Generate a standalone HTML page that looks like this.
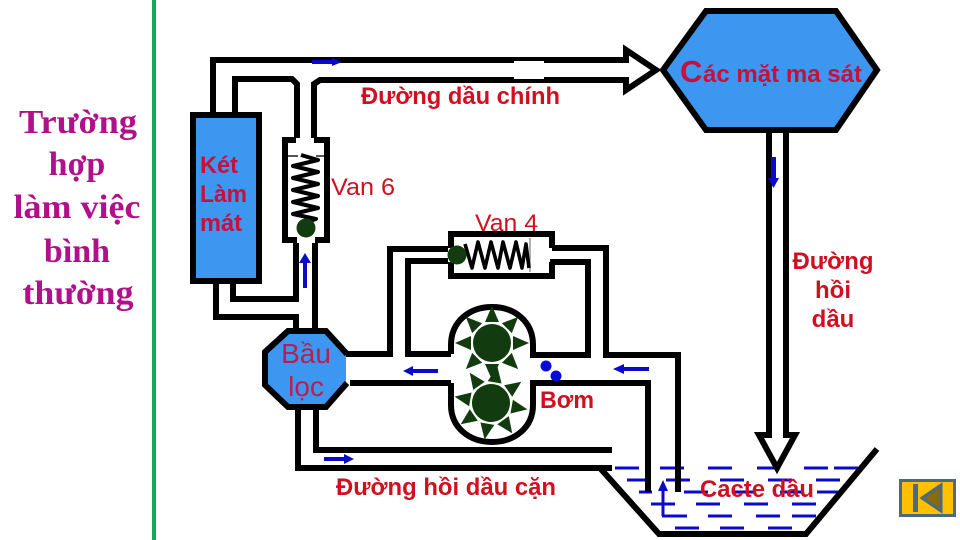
<!DOCTYPE html>
<html><head><meta charset="utf-8"><style>html,body{margin:0;padding:0;background:#fff}svg{display:block}</style></head><body>
<svg width="960" height="540" viewBox="0 0 960 540" xmlns="http://www.w3.org/2000/svg">
<defs>
<g id="t"><polygon points="-7,-21 7,-21 0,-37" fill="#123c10"/></g>
<g id="g"><circle r="19" fill="#123c10"/><use href="#t"/><use href="#t" transform="rotate(45)"/><use href="#t" transform="rotate(90)"/><use href="#t" transform="rotate(135)"/><use href="#t" transform="rotate(180)"/><use href="#t" transform="rotate(225)"/><use href="#t" transform="rotate(270)"/><use href="#t" transform="rotate(315)"/></g>
</defs>
<rect width="960" height="540" fill="#fff"/>
<rect x="152" y="0" width="4" height="540" fill="#12a85a"/>
<g font-family="'Liberation Serif',serif" font-weight="bold" font-size="34" fill="#b0108a" text-anchor="middle">
<text x="78" y="133" textLength="118" lengthAdjust="spacingAndGlyphs">Trường</text>
<text x="77" y="175">hợp</text>
<text x="77" y="218" textLength="127" lengthAdjust="spacingAndGlyphs">làm việc</text>
<text x="77" y="262">bình</text>
<text x="78" y="304" textLength="111" lengthAdjust="spacingAndGlyphs">thường</text>
</g>

<!-- dashes -->
<g stroke="#0a0ac8" stroke-width="3" fill="none">
<path d="M615 468H639M660 468H684M708 468H732M757 468H780M804 468H828M834 468H858"/>
<path d="M627 480H647M666 480H690M720 480H744M768 480H792M816 480H840"/>
<path d="M639 492H652M684 492H708M732 492H756M780 492H803M817 492H840"/>
<path d="M651 504H675M696 504H720M744 504H768M792 504H816"/>
<path d="M662 516H687M708 516H732M756 516H780M792 516H816"/>
<path d="M675 528H699M720 528H744M768 528H792"/>
<path d="M663 516V488"/>
</g>
<polygon points="663,480 658,491 668,491" fill="#0a0ac8"/>

<!-- pipes -->
<g fill="none" stroke="#000" stroke-width="6">
<path d="M213 113V60H626V50L656 70L626 90V80H320L314 84V138M235 113V79H292L297 84V138"/>
<path d="M216 284V317H296V329M233 284V299H296V243M315 243V329"/>
<path d="M345 354H390V249H448M350 383H451M408 354V261H448M405 354H451"/>
<path d="M451 354V345C451 321 470 307 492 307C514 307 533 321 533 345V355H588V262H550M552 248H606V355H678V492"/>
<path d="M451 383V405C451 428 470 442 492 442C514 442 533 428 533 405V383H648V492" />
<path d="M298 408V468H612M316 408V450H612"/>
<path d="M600 468L659 534H806L877 449"/>
<path d="M769 132V435H759L777 468L795 435H786V132"/>
</g>
<rect x="514" y="61" width="30" height="2" fill="#fff"/><rect x="514" y="77" width="30" height="2" fill="#fff"/>

<!-- radiator -->
<rect x="193" y="115" width="66" height="166" fill="#3d96f0" stroke="#000" stroke-width="6"/>
<!-- valve 6 -->
<path d="M296 140H285V240H297M315 240H327V140H314" fill="none" stroke="#000" stroke-width="6"/>
<path d="M288 156H298M316 156H324" stroke="#555" stroke-width="2"/>
<path d="M301 155L318 160L293 166L318 172L293 178L318 184L293 190L318 196L293 202L318 208L293 214L316 219L301 224" fill="none" stroke="#000" stroke-width="4" stroke-linejoin="round"/>
<circle cx="306" cy="228" r="9.5" fill="#123c10"/>
<!-- valve 4 -->
<path d="M451 248V234H552V248M552 262V276H451V262" fill="none" stroke="#000" stroke-width="6"/>
<path d="M530 238V272" stroke="#999" stroke-width="1.5"/>
<path d="M465 244L472 268L478 242L485 268L491 242L498 268L503 242L510 268L516 242L522 268L526 244L529 268" fill="none" stroke="#000" stroke-width="3.6" stroke-linejoin="round"/>
<circle cx="457" cy="255" r="9.5" fill="#123c10"/>

<!-- filter -->
<polygon points="288,331 326,331 346,352 346,385 326,407 288,407 265,385 265,352" fill="#3d96f0"/>
<path d="M347 354L326 331H288L265 352V385L288 407H326L347 383" fill="none" stroke="#000" stroke-width="6"/>
<!-- hexagon -->
<polygon points="706,11 836,11 877,70 836,130 706,130 663,70" fill="#3d96f0" stroke="#000" stroke-width="6"/>

<!-- gears -->
<use href="#g" transform="translate(492 343)"/>
<use href="#g" transform="translate(491 403) rotate(10)"/>
<circle cx="546" cy="366" r="5.5" fill="#0a0ad8"/><circle cx="556" cy="376" r="5.5" fill="#0a0ad8"/>

<!-- blue arrows -->
<g fill="#0a0ac8">
<polygon points="312,60 332,60 332,58 342,62 332,66 332,64 312,64"/>
<polygon points="303,288 307,288 307,263 311,263 305,253 299,263 303,263"/>
<polygon points="438,369 413,369 413,366 403,371 413,376 413,373 438,373"/>
<polygon points="649,367 624,367 624,364 613,369 624,374 624,371 649,371"/>
<polygon points="771,157 776,157 776,178 779,178 773.5,188 768,178 771,178"/>
<polygon points="324,457 344,457 344,454 354,459 344,464 344,461 324,461"/>
</g>

<!-- labels -->
<g font-family="'Liberation Sans',sans-serif" fill="#d01020" font-size="24">
<text x="361" y="104" font-weight="bold" textLength="199" lengthAdjust="spacingAndGlyphs">Đường dầu chính</text>
<text x="680" y="82" font-size="31" font-weight="bold" fill="#c8103c">C</text>
<text x="703" y="82" font-size="24" font-weight="bold" fill="#c8103c" textLength="159" lengthAdjust="spacingAndGlyphs">ác mặt ma sát</text>
<text x="331" y="195" textLength="64" lengthAdjust="spacingAndGlyphs">Van 6</text>
<text x="475" y="231" textLength="63" lengthAdjust="spacingAndGlyphs">Van 4</text>
<g font-weight="bold" fill="#c8103c" font-size="24">
<text x="200" y="173" textLength="38" lengthAdjust="spacingAndGlyphs">Két</text>
<text x="200" y="202" textLength="47" lengthAdjust="spacingAndGlyphs">Làm</text>
<text x="200" y="231" textLength="42" lengthAdjust="spacingAndGlyphs">mát</text>
</g>
<g font-weight="bold" text-anchor="middle">
<text x="833" y="269" textLength="81" lengthAdjust="spacingAndGlyphs">Đường</text>
<text x="833" y="298">hồi</text>
<text x="833" y="327">dầu</text>
</g>
<g font-size="28" fill="#b82050" text-anchor="middle">
<text x="306" y="363">Bầu</text>
<text x="306" y="396">lọc</text>
</g>
<text x="540" y="408" font-weight="bold" textLength="54" lengthAdjust="spacingAndGlyphs">Bơm</text>
<text x="336" y="495" font-weight="bold" textLength="220" lengthAdjust="spacingAndGlyphs">Đường hồi dầu cặn</text>
<text x="700" y="497" font-weight="bold" textLength="114" lengthAdjust="spacingAndGlyphs">Cacte dầu</text>
</g>

<!-- back button -->
<rect x="900.5" y="480.5" width="54" height="35" fill="#ffc000" stroke="#4a6a80" stroke-width="3"/>
<rect x="913" y="484" width="5" height="28" fill="#4a6a80"/>
<polygon points="922,498 941,485 941,511" fill="#8a6a10" stroke="#4a6a80" stroke-width="3"/>
</svg>
</body></html>
